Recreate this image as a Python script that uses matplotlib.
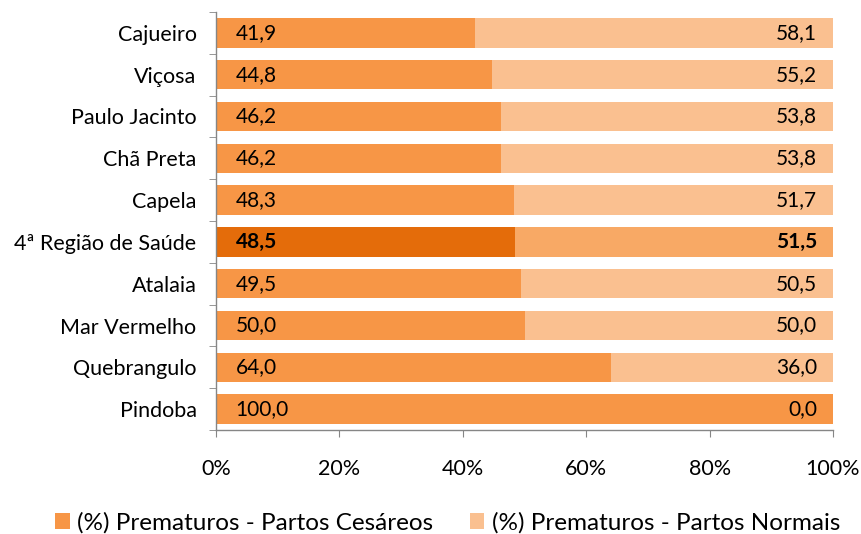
import matplotlib
matplotlib.use("Agg")
import matplotlib.pyplot as plt
from matplotlib.patches import Patch
from matplotlib.ticker import FixedLocator

categories = ["Cajueiro", "Viçosa", "Paulo Jacinto", "Chã Preta", "Capela",
              "4ª Região de Saúde", "Atalaia", "Mar Vermelho", "Quebrangulo", "Pindoba"]
cesareos = [41.9, 44.8, 46.2, 46.2, 48.3, 48.5, 49.5, 50.0, 64.0, 100.0]
normais = [58.1, 55.2, 53.8, 53.8, 51.7, 51.5, 50.5, 50.0, 36.0, 0.0]
highlight = "4ª Região de Saúde"
xticks = [0, 20, 40, 60, 80, 100]
xticklabels = ["0%", "20%", "40%", "60%", "80%", "100%"]
series_names = ["(%) Prematuros - Partos Cesáreos", "(%) Prematuros - Partos Normais"]

c_ces = "#F79646"
c_nor = "#FAC090"
c_ces_h = "#E46C0A"
c_nor_h = "#F8A965"

plt.rcParams['font.family'] = ['Lato', 'DejaVu Sans']
fs = 15.5
fs_val = 15
fs_leg = 17.5

fig = plt.figure(figsize=(8.61, 5.34), dpi=100)
ax = fig.add_axes([216/861, 1-430/534, (833-216)/861, (430-12)/534])

n = len(categories)
ypos = list(range(n))
for i, (cat, c, nm) in enumerate(zip(categories, cesareos, normais)):
    h = cat == highlight
    ax.barh(i, c, height=0.7, color=c_ces_h if h else c_ces, edgecolor='none')
    ax.barh(i, nm, left=c, height=0.7, color=c_nor_h if h else c_nor, edgecolor='none')
    fw = 'bold' if h else 'normal'
    ax.text(3.2, i, f"{c:.1f}".replace('.', ','), va='center', ha='left',
            fontsize=fs_val, fontweight=fw, color='black')
    ax.text(97.4, i, f"{nm:.1f}".replace('.', ','), va='center', ha='right',
            fontsize=fs_val, fontweight=fw, color='black')

ax.set_xlim(0, 100)
ax.set_ylim(n - 0.5, -0.5)
ax.set_yticks(ypos)
ax.set_yticklabels(categories, fontsize=fs)
ax.yaxis.set_minor_locator(FixedLocator([i - 0.5 for i in range(n + 1)]))
ax.tick_params(axis='y', which='major', length=0, pad=14)
ax.tick_params(axis='y', which='minor', length=5, color='#868686', direction='out')
ax.set_xticks(xticks)
ax.set_xticklabels(xticklabels, fontsize=fs)
ax.tick_params(axis='x', length=5, color='#868686', direction='out', pad=16)

for s in ['top', 'right']:
    ax.spines[s].set_visible(False)
for s in ['left', 'bottom']:
    ax.spines[s].set_color('#868686')
    ax.spines[s].set_linewidth(1.0)

handles = [Patch(facecolor=c_ces, edgecolor='none'), Patch(facecolor=c_nor, edgecolor='none')]
fig.legend(handles, series_names, loc='lower center', ncol=2, frameon=False,
           fontsize=fs_leg, bbox_to_anchor=(0.52, -0.04), handlelength=0.6, handleheight=0.6,
           handletextpad=0.3, columnspacing=1.5)

fig.savefig("out.png", dpi=100)
